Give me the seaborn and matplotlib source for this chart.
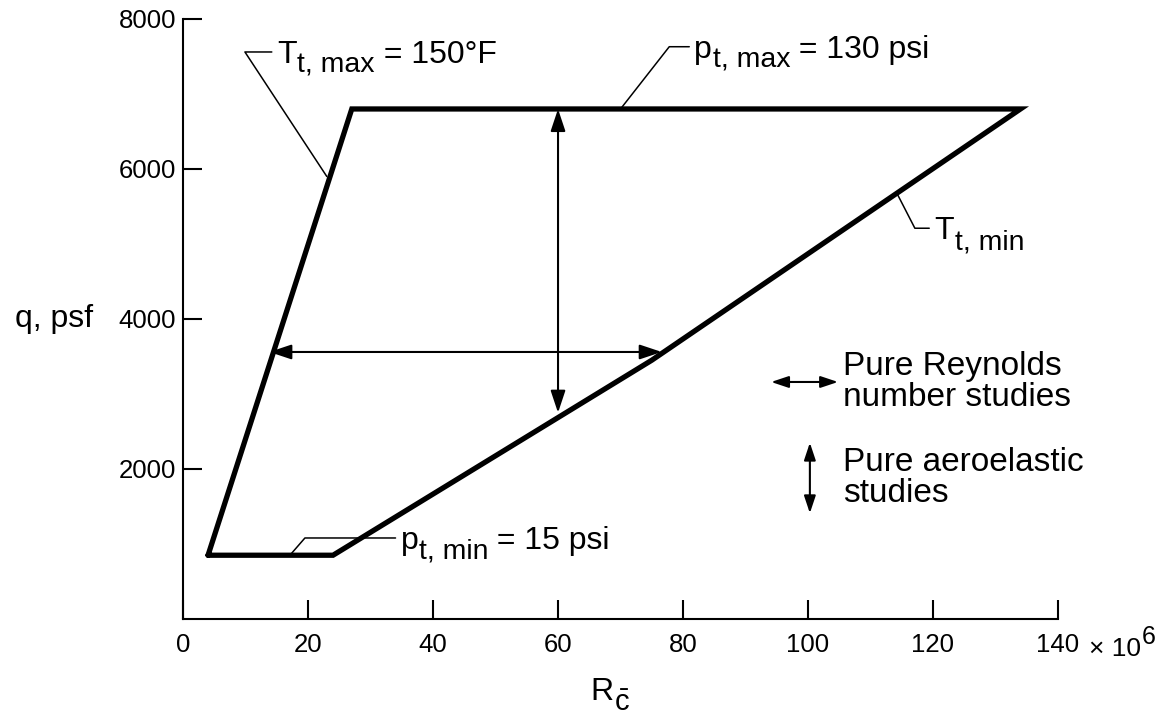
import matplotlib
matplotlib.use("Agg")
import matplotlib.pyplot as plt
import seaborn as sns
import pandas as pd

# operating envelope (Reynolds number in millions, dynamic pressure in psf)
envelope_r = [4, 27, 134, 75, 24, 4]
envelope_q = [850, 6800, 6800, 3450, 850, 850]

x_ticks = [0, 20, 40, 60, 80, 100, 120, 140]
x_tick_labels = ["0", "20", "40", "60", "80", "100", "120", "140"]
y_ticks = [2000, 4000, 6000, 8000]
y_tick_labels = ["2000", "4000", "6000", "8000"]

# study arrows inside the envelope
reynolds_arrow_r = [13.8, 76.6]
reynolds_arrow_q = 3560
aero_arrow_r = 60
aero_arrow_q = [2750, 6800]

# callouts: leader polyline (r, q) and label pieces (base, subscript, rest)
callout_parts = [
    ("T", "t, max", " = 150°F"),
    ("p", "t, max", " = 130 psi"),
    ("T", "t, min", ""),
    ("p", "t, min", " = 15 psi"),
]
callout_r = [[23.0, 9.9, 14.2], [70.0, 77.8, 81.0], [114.2, 117.1, 119.4], [17.1, 19.5, 34.0]]
callout_q = [[5900, 7560, 7560], [6800, 7630, 7630], [5680, 5210, 5210], [850, 1080, 1080]]

legend_labels = ["Pure Reynolds\nnumber studies", "Pure aeroelastic\nstudies"]

sns.set_style("ticks")
plt.rcParams["font.family"] = ["Liberation Sans", "DejaVu Sans"]
plt.rcParams["mathtext.default"] = "regular"
for key in ["text.color", "axes.labelcolor", "xtick.color", "ytick.color",
            "axes.edgecolor"]:
    plt.rcParams[key] = "black"

fig = plt.figure(figsize=(11.63, 7.16), dpi=100)
ax = fig.add_axes([0.1574, 0.1355, 0.7523, 0.838])
renderer = fig.canvas.get_renderer()


def text_width_pts(t):
    return t.get_window_extent(renderer).width * 72 / fig.dpi


def sub_label(x, y, base, sub, rest, size=23, sub_size=20.5, drop=-7, coords="data"):
    # draw base + lowered/raised piece + rest, chained by measured widths
    common = dict(xy=(x, y), xycoords=coords, va="baseline", annotation_clip=False)
    t1 = ax.annotate(base, fontsize=size, **common)
    w = text_width_pts(t1)
    t2 = ax.annotate(sub, xytext=(w + 0.5, drop), textcoords="offset points",
                     fontsize=sub_size, **common)
    w += text_width_pts(t2) + 0.5
    if rest:
        ax.annotate(rest, xytext=(w, 0), textcoords="offset points",
                    fontsize=size, **common)


env = pd.DataFrame({"r": envelope_r, "q": envelope_q})
sns.lineplot(data=env, x="r", y="q", sort=False, estimator=None,
             color="black", linewidth=3.8, ax=ax)
for line in ax.lines:
    line.set_solid_joinstyle("miter")

ax.set_xlim(0, 140)
ax.set_ylim(0, 8000)

for rs, qs, (base, sub, rest) in zip(callout_r, callout_q, callout_parts):
    ax.plot(rs, qs, color="black", linewidth=1.1)
    sub_label(rs[-1] + 0.8, qs[-1] - 150, base, sub, rest)

arrow_kw = dict(arrowstyle="<|-|>,head_length=0.75,head_width=0.25",
                color="black", lw=1.5, shrinkA=0, shrinkB=0, mutation_scale=18)
ax.annotate("", xy=(reynolds_arrow_r[0], reynolds_arrow_q),
            xytext=(reynolds_arrow_r[1], reynolds_arrow_q), arrowprops=arrow_kw)
ax.annotate("", xy=(aero_arrow_r, aero_arrow_q[0]),
            xytext=(aero_arrow_r, aero_arrow_q[1]), arrowprops=arrow_kw)

# key
key_kw = dict(arrow_kw, mutation_scale=14)
ax.annotate("", xy=(94.1, 3160), xytext=(104.8, 3160), arrowprops=key_kw)
ax.text(105.6, 3160, legend_labels[0], fontsize=24, va="center", ha="left",
        linespacing=1.0)
ax.annotate("", xy=(100.3, 1410), xytext=(100.3, 2350), arrowprops=key_kw)
ax.text(105.6, 1880, legend_labels[1], fontsize=24, va="center", ha="left",
        linespacing=1.0)

ax.set_xticks(x_ticks)
ax.set_xticklabels(x_tick_labels)
ax.set_yticks(y_ticks)
ax.set_yticklabels(y_tick_labels)
ax.tick_params(axis="both", direction="in", length=14, width=1.5,
               labelsize=18.5, color="black")
ax.tick_params(axis="x", pad=10)
ax.tick_params(axis="y", pad=5)
for side in ["top", "right"]:
    ax.spines[side].set_visible(False)
for side in ["left", "bottom"]:
    ax.spines[side].set_linewidth(1.5)

# multiplier after the last tick label, in axes fraction
sub_label(1.035, -0.062, "× 10", "6", "", size=19, sub_size=18, drop=9,
          coords="axes fraction")
sub_label(0.465, -0.135, "R", r"$\bar{c}$", "", size=23, sub_size=21, drop=-8,
          coords="axes fraction")
ax.set_xlabel("")
ax.set_ylabel("")
ax.text(-0.147, 0.5, "q, psf", fontsize=23, ha="center", va="center",
        transform=ax.transAxes)

fig.savefig("out.png", dpi=100)
